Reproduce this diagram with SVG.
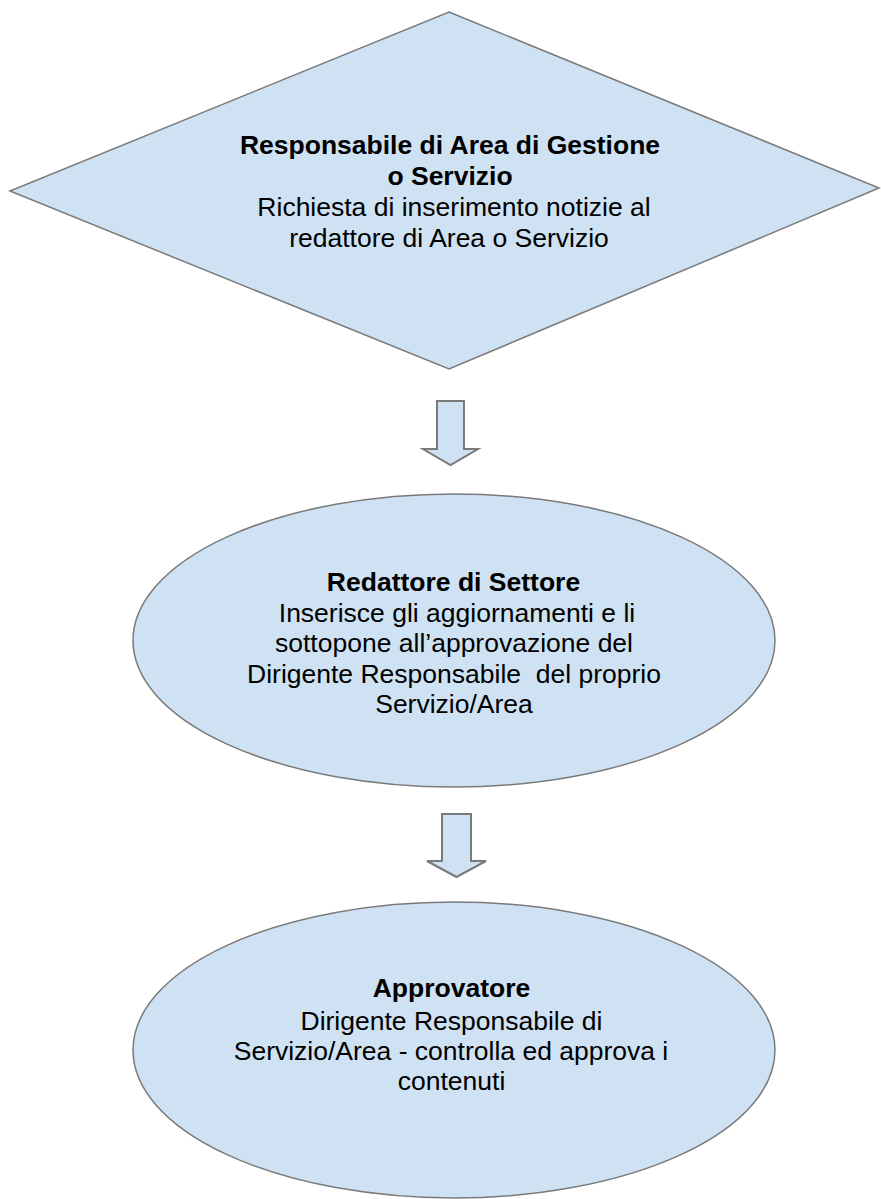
<svg xmlns="http://www.w3.org/2000/svg" width="881" height="1199" viewBox="0 0 881 1199">
  <style>
    .shape { fill: #cfe2f3; stroke: #7a7a7a; stroke-width: 1.5; }
    .arrow { fill: #cfe2f3; stroke: #7a7a7a; stroke-width: 2; stroke-linejoin: miter; }
    text { font-family: "Liberation Sans", Arial, sans-serif; font-size: 26.5px; fill: #000; text-anchor: middle; }
    .b { font-weight: bold; }
  </style>
  <rect width="881" height="1199" fill="#ffffff"/>
  <g id="connectors">
    <polygon class="arrow" points="437,401 464,401 464,449 478,449 450.5,465 423,449 437,449"/>
    <polygon class="arrow" points="442,814 471,814 471,861 486,861 456.5,877 427,861 442,861"/>
  </g>
  <g id="node-responsabile">
    <polygon class="shape" points="449,12 879,188 449,369 10,191"/>
    <text class="b" x="450" y="154">Responsabile di Area di Gestione</text>
    <text class="b" x="450" y="184.5">o Servizio</text>
    <text x="454" y="215.5">Richiesta di inserimento notizie al</text>
    <text x="449" y="246.5">redattore di Area o Servizio</text>
  </g>
  <g id="node-redattore">
    <ellipse class="shape" cx="454" cy="640.5" rx="321" ry="146.5"/>
    <text class="b" x="453.5" y="591">Redattore di Settore</text>
    <text x="457" y="622">Inserisce gli aggiornamenti e li</text>
    <text x="454" y="652">sottopone all’approvazione del</text>
    <text x="454" y="683" xml:space="preserve">Dirigente Responsabile  del proprio</text>
    <text x="454" y="713">Servizio/Area</text>
  </g>
  <g id="node-approvatore">
    <ellipse class="shape" cx="454" cy="1050" rx="321" ry="148"/>
    <text class="b" x="451.5" y="997">Approvatore</text>
    <text x="451.5" y="1030">Dirigente Responsabile di</text>
    <text x="451" y="1060">Servizio/Area - controlla ed approva i</text>
    <text x="451.5" y="1090">contenuti</text>
  </g>
</svg>
